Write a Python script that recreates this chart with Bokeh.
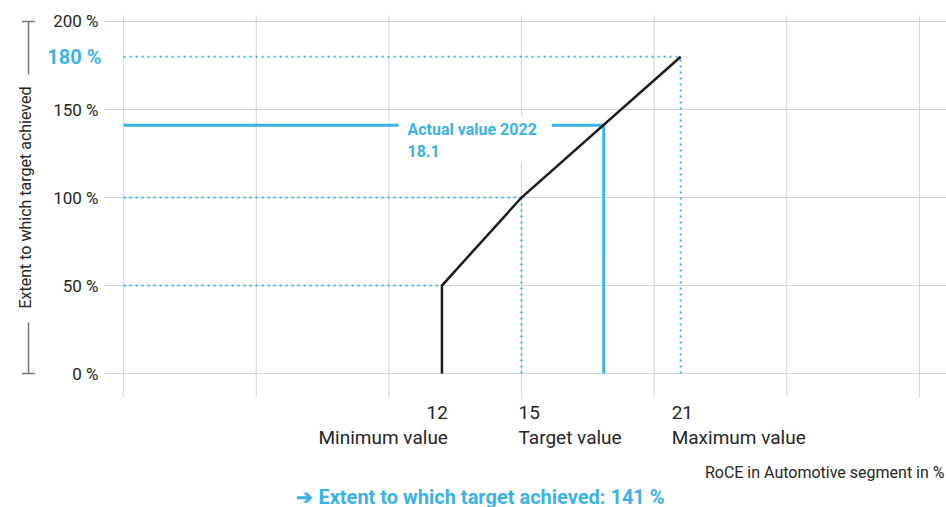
import math
from bokeh.plotting import figure
from bokeh.models import Range1d, Label, Arrow, TeeHead
from bokeh.core.properties import value
from bokeh.embed import file_html
from bokeh.resources import INLINE

# ---------------- data ----------------
threshold_roce = [12, 15, 21]                     # RoCE in %
threshold_names = ["Minimum value", "Target value", "Maximum value"]
threshold_extent = [50, 100, 180]                 # extent to which target achieved, %
curve_roce = [12, 12, 15, 21]
curve_extent = [0, 50, 100, 180]
actual_year = 2022
actual_roce = 18.1
actual_extent = 141
y_ticks = [0, 50, 100, 150, 200]
y_tick_labels = ["0 %", "50 %", "100 %", "150 %", "200 %"]
x_grid = [0, 5, 10, 15, 20, 25, 30]
max_label = "180 %"
x_title = "RoCE in Automotive segment in %"
y_title = "Extent to which target achieved"

BLUE = "#3bb3e4"
BLACK = "#1d1d1b"
TEXT = "#262626"
GRID = "#d3d3d3"
FONT = "Roboto"

W, H = 946, 507
# plot area (data extent) and where it sits on the canvas (px)
X_LO, X_HI = -0.72, 31.02
Y_LO, Y_HI = -13.6, 203.4
FL, FR, FT, FB = 104, 946, 15, 397
KX = (X_HI - X_LO) / (FR - FL)
KY = (Y_HI - Y_LO) / (FB - FT)


def dx(px):
    return X_LO + (px - FL) * KX


def dy(py):
    return Y_HI - (py - FT) * KY


p = figure(width=W, height=H, output_backend="svg", toolbar_location=None,
           x_range=Range1d(dx(0), dx(W)), y_range=Range1d(dy(H), dy(0)),
           min_border=0)
p.outline_line_color = None
p.background_fill_color = "white"
p.axis.visible = False
p.grid.visible = False

# grid
p.segment(x0=x_grid, x1=x_grid, y0=[Y_LO] * len(x_grid), y1=[Y_HI] * len(x_grid),
          line_color=GRID, line_width=1)
p.segment(x0=[X_LO] * len(y_ticks), x1=[X_HI] * len(y_ticks), y0=y_ticks, y1=y_ticks,
          line_color=GRID, line_width=1)

# y tick labels
p.text(x=[X_LO] * len(y_ticks), y=y_ticks, text=y_tick_labels, x_offset=-6,
       text_font=value(FONT), text_font_size="17px", text_color=TEXT,
       text_align="right", text_baseline="middle")

# dotted guides for thresholds
p.multi_line(xs=[[0, r] for r in threshold_roce],
             ys=[[e, e] for e in threshold_extent],
             line_color=BLUE, line_width=2, line_dash="2 4")
p.multi_line(xs=[[r, r] for r in threshold_roce],
             ys=[[0, e] for e in threshold_extent],
             line_color=BLUE, line_width=2, line_dash="2 4")

# actual value lines
p.line([0, actual_roce, actual_roce], [actual_extent, actual_extent, 0],
       line_color=BLUE, line_width=3, line_join="miter")

# actual value annotation (white box interrupts blue line)
p.add_layout(Label(x=dx(398), y=dy(115), text=f"Actual value {actual_year}\n{actual_roce}",
                   text_font=FONT, text_font_size="16px", text_font_style="bold",
                   text_color=BLUE, text_align="left", text_baseline="top",
                   background_fill_color="white", padding=(9, 15, 4, 2)))

# target curve
p.line(curve_roce, curve_extent, line_color=BLACK, line_width=2.5, line_join="miter")

# y labels beside the axis
p.add_layout(Label(x=dx(101), y=threshold_extent[-1], text=max_label,
                   text_font=FONT, text_font_size="20px", text_font_style="bold",
                   text_color=BLUE, text_align="right", text_baseline="middle"))
p.add_layout(Label(x=dx(25), y=dy(197), text=y_title, angle=math.pi / 2,
                   text_font=FONT, text_font_size="16px", text_color=TEXT,
                   text_align="center", text_baseline="middle"))
bx = dx(28)
for y_from, y_to in [(dy(74), y_ticks[-1]), (dy(322), y_ticks[0])]:
    p.add_layout(Arrow(x_start=bx, y_start=y_from, x_end=bx, y_end=y_to, start=None,
                       end=TeeHead(size=13, line_color="#777777", line_width=1.5),
                       line_color="#777777", line_width=1.5))

# x labels under threshold values
aligns = ["right", "left", "left"]
offsets = [6, -3, -9]
for r, name, al, off in zip(threshold_roce, threshold_names, aligns, offsets):
    p.add_layout(Label(x=r, y=dy(412), x_offset=off, text=str(r),
                       text_font=FONT, text_font_size="19px", text_color=TEXT,
                       text_align=al, text_baseline="middle"))
    p.add_layout(Label(x=r, y=dy(437), x_offset=off, text=name,
                       text_font=FONT, text_font_size="19px", text_color=TEXT,
                       text_align=al, text_baseline="middle"))

p.add_layout(Label(x=dx(944), y=dy(472), text=x_title,
                   text_font=FONT, text_font_size="16px", text_color=TEXT,
                   text_align="right", text_baseline="middle"))
p.add_layout(Label(x=dx(480), y=dy(496),
                   text=f"\u2794 Extent to which target achieved: {actual_extent} %",
                   text_font=FONT, text_font_size="20px", text_font_style="bold",
                   text_color=BLUE, text_align="center", text_baseline="middle"))

open("out.html", "w").write(file_html(p, INLINE))
